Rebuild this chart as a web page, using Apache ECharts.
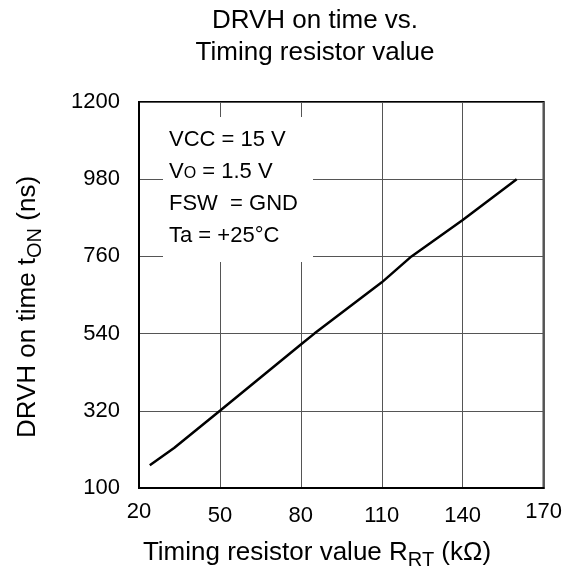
<!DOCTYPE html>
<html>
<head>
<meta charset="utf-8">
<script src="https://cdn.jsdelivr.net/npm/echarts@6/dist/echarts.min.js"></script>
<style>
html,body{margin:0;padding:0;background:#fff;}
#c{width:565px;height:573px;}
</style>
</head>
<body>
<div id="c"></div>
<script>
// Data
var resistanceK = [24, 33, 50, 80, 85, 110, 121, 140, 160];
var onTimeNs = [165, 214, 320, 509, 540, 686, 760, 864, 980];
var xTicks = [20, 50, 80, 110, 140, 170];
var yTicks = [100, 320, 540, 760, 980, 1200];
var titleLines = ['DRVH on time vs.', 'Timing resistor value'];
var conditions = ['{n|VCC = 15 V}', '{n|V}{o|O}{n| = 1.5 V}', '{n|FSW  = GND}', '{n|Ta = +25°C}'];

var FONT = '"Liberation Sans", Arial, Helvetica, sans-serif';
var chart = echarts.init(document.getElementById('c'), null, {renderer: 'canvas'});

var seriesData = resistanceK.map(function (x, i) { return [x, onTimeNs[i]]; });

var option = {
  animation: false,
  backgroundColor: '#ffffff',
  textStyle: {fontFamily: FONT},
  grid: {left: 139, right: 20, top: 102, bottom: 85, show: true, borderColor: '#000', borderWidth: 2, backgroundColor: 'transparent'},
  xAxis: {
    type: 'value', min: xTicks[0], max: xTicks[xTicks.length - 1], interval: xTicks[1] - xTicks[0],
    axisLine: {show: true, lineStyle: {color: '#000', width: 2}},
    axisTick: {show: false},
    splitLine: {show: true, lineStyle: {color: '#555', width: 1}},
    axisLabel: {
      margin: 13, color: '#000', fontSize: 22, fontFamily: FONT,
      formatter: function (v) {
        if (v === xTicks[0] || v === xTicks[xTicks.length - 1]) return '{e|' + v + '}';
        return '{m|' + v + '}';
      },
      rich: {
        e: {fontSize: 22, fontFamily: FONT, color: '#000', padding: [0, 0, 0, 0]},
        m: {fontSize: 22, fontFamily: FONT, color: '#000', padding: [4, 0, 0, 0]}
      }
    }
  },
  yAxis: {
    type: 'value', min: yTicks[0], max: yTicks[yTicks.length - 1], interval: yTicks[1] - yTicks[0],
    axisLine: {show: true, lineStyle: {color: '#000', width: 2}},
    axisTick: {show: false},
    splitLine: {show: true, lineStyle: {color: '#555', width: 1}},
    axisLabel: {margin: 19, color: '#000', fontSize: 22, fontFamily: FONT, formatter: function (v) { return String(v); }}
  },
  series: [{
    type: 'line', data: seriesData, showSymbol: false, smooth: false,
    lineStyle: {color: '#000', width: 2.5}, z: 3
  }],
  graphic: [
    {type: 'rect', shape: {x: 163, y: 117, width: 150, height: 145}, style: {fill: '#fff'}, z: 10},
    {type: 'text', x: 169, y: 124, z: 11, style: {
      text: conditions.join('\n'), fontSize: 22, fontFamily: FONT, fill: '#000', lineHeight: 32,
      verticalAlign: 'top', align: 'left',
      rich: {
        n: {fontSize: 22, fontFamily: FONT, fill: '#000', lineHeight: 32, verticalAlign: 'middle'},
        o: {fontSize: 16, fontFamily: FONT, fill: '#000', lineHeight: 32, verticalAlign: 'middle', padding: [4, 0, 0, 0]}
      }
    }},
    {type: 'text', x: 315, y: 5, z: 11, style: {
      text: titleLines.join('\n'), fontSize: 26, fontFamily: FONT, fill: '#000', lineHeight: 32,
      align: 'center', verticalAlign: 'top'
    }},
    {type: 'text', x: 317, y: 536, z: 11, style: {
      text: '{m|Timing resistor value R}{s|RT}{m| (kΩ)}', align: 'center', verticalAlign: 'top',
      rich: {
        m: {fontSize: 26, fontFamily: FONT, fill: '#000', lineHeight: 34, verticalAlign: 'middle'},
        s: {fontSize: 20, fontFamily: FONT, fill: '#000', lineHeight: 14, verticalAlign: 'bottom'}
      }
    }},
    {type: 'text', x: 28, y: 307, rotation: Math.PI / 2, z: 11, style: {
      text: '{m|DRVH on time t}{s|ON}{m| (ns)}', align: 'center', verticalAlign: 'middle',
      rich: {
        m: {fontSize: 26, fontFamily: FONT, fill: '#000', lineHeight: 34, verticalAlign: 'middle'},
        s: {fontSize: 20, fontFamily: FONT, fill: '#000', lineHeight: 14, verticalAlign: 'bottom'}
      }
    }}
  ]
};
chart.setOption(option);
</script>
</body>
</html>
